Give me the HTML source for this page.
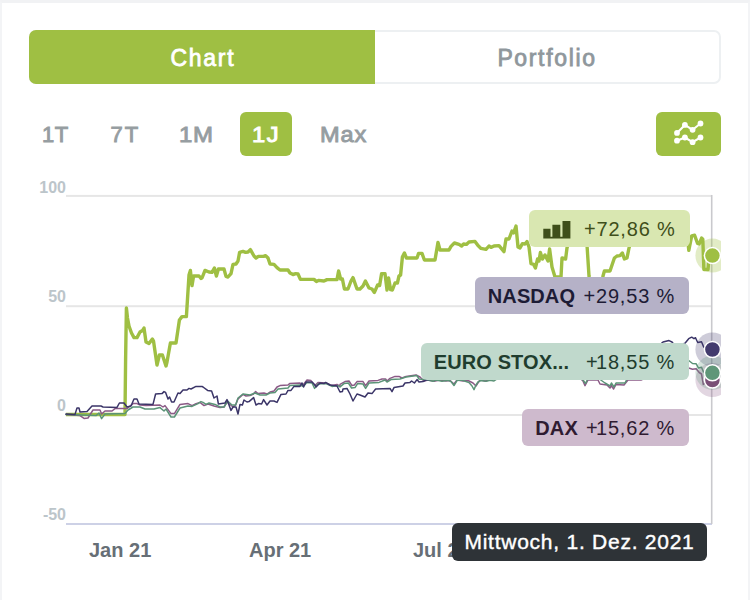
<!DOCTYPE html>
<html><head><meta charset="utf-8">
<style>
html,body{margin:0;padding:0;}
body{width:750px;height:600px;overflow:hidden;background:#fff;font-family:"Liberation Sans",sans-serif;position:relative;}
.frame{position:absolute;left:0;top:0;width:750px;height:620px;box-sizing:border-box;border-left:2px solid #f3f4f6;border-right:2px solid #f3f4f6;border-top:3px solid #f1f2f4;}
.tabs{position:absolute;left:29px;top:30px;width:692px;height:54px;box-sizing:border-box;border:2px solid #edf0f2;border-radius:7px;}
.tab-chart{position:absolute;left:29px;top:30px;width:346px;height:54px;background:#9fbf43;border-radius:7px 0 0 7px;color:#fff;font-size:23px;line-height:57px;text-align:center;letter-spacing:1.7px;-webkit-text-stroke:0.8px #fff;}
.tab-port{position:absolute;left:375px;top:30px;width:346px;height:54px;color:#8f979c;font-size:23px;line-height:57px;text-align:center;letter-spacing:1.65px;-webkit-text-stroke:0.8px #8f979c;}
.rng{position:absolute;top:111.5px;height:44px;line-height:46px;font-size:22px;color:#969da1;-webkit-text-stroke:0.9px #969da1;letter-spacing:0.6px;white-space:nowrap;}
.rng.act{left:240px;width:52px;background:#9fbf43;border-radius:6px;color:#fff;-webkit-text-stroke:0.9px #fff;text-align:center;}
.cmp{position:absolute;left:656px;top:111.5px;width:65px;height:44px;background:#9fbf43;border-radius:6px;}
.yl{position:absolute;width:60px;left:6px;text-align:right;font-size:16px;font-weight:bold;color:#bcc5ca;line-height:16px;}
.xl{position:absolute;top:538px;font-size:20px;font-weight:bold;color:#676f76;line-height:24px;white-space:nowrap;}
.lab{position:absolute;height:37px;border-radius:6px;box-sizing:border-box;font-size:20px;line-height:38px;white-space:nowrap;}
.lab b{position:absolute;left:13.3px;top:0;font-weight:bold;letter-spacing:0.1px;}
.lab span{position:absolute;right:14px;top:0;letter-spacing:0.8px;}
.lab i{font-style:normal;margin-right:-2.4px;}
.tip{position:absolute;left:452px;top:523px;width:255px;height:37.5px;background:#2e3337;border-radius:6px;color:#fff;font-size:21px;line-height:38px;text-align:center;letter-spacing:0.75px;-webkit-text-stroke:0.4px #fff;white-space:nowrap;}
svg{position:absolute;left:0;top:0;}
</style></head><body>
<div class="frame"></div>
<div class="tabs"></div>
<div class="tab-chart"><span style="position:relative;left:0.9px">Chart</span></div>
<div class="tab-port"><span style="position:relative;left:-1px">Portfolio</span></div>

<div class="rng" style="left:42px">1T</div>
<div class="rng" style="left:110.5px;letter-spacing:2px">7T</div>
<div class="rng" style="left:178.5px;transform:scaleX(1.09);transform-origin:left">1M</div>
<div class="rng act"><span style="display:inline-block;transform:scaleX(1.08);letter-spacing:1.4px;margin-left:1px">1J</span></div>
<div class="rng" style="left:320px;letter-spacing:0.8px;transform:scaleX(1.07);transform-origin:left">Max</div>
<div class="cmp"></div>

<div class="yl" style="top:180px">100</div>
<div class="yl" style="top:289px">50</div>
<div class="yl" style="top:398px">0</div>
<div class="yl" style="top:507px">-50</div>

<div class="xl" style="left:89px">Jan 21</div>
<div class="xl" style="left:249px">Apr 21</div>
<div class="xl" style="left:413px">Jul 21</div>

<svg width="750" height="600" viewBox="0 0 750 600">
  <defs><clipPath id="cp"><rect x="60" y="180" width="661" height="360"/></clipPath></defs>
  <!-- compare icon -->
  <g fill="#fff" stroke="#fff" stroke-width="2.1" stroke-linejoin="round" stroke-linecap="round">
    <polyline fill="none" points="677,132.9 684.9,124.9 692.6,129.8 700.5,123.5"/>
    <polyline fill="none" points="677,140.7 684.9,137.5 692.6,142.2 700.5,137.5"/>
    <g stroke="none">
    <circle cx="677" cy="132.9" r="2.9"/><circle cx="684.9" cy="124.9" r="2.9"/><circle cx="692.6" cy="129.8" r="2.9"/><circle cx="700.5" cy="123.5" r="2.9"/>
    <circle cx="677" cy="140.7" r="2.9"/><circle cx="684.9" cy="137.5" r="2.9"/><circle cx="692.6" cy="142.2" r="2.9"/><circle cx="700.5" cy="137.5" r="2.9"/>
    </g>
  </g>
  <!-- grid -->
  <rect x="66" y="194.9" width="646" height="2" fill="#e6e6e6"/>
  <rect x="66" y="305.2" width="646" height="2" fill="#e6e6e6"/>
  <rect x="66" y="414" width="646" height="2" fill="#e6e6e6"/>
  <rect x="66" y="523" width="646" height="2" fill="#cdd1e6"/>
  <rect x="710.9" y="195" width="1.6" height="329" fill="#c9c9cd"/>
  <g clip-path="url(#cp)" fill="none" stroke-linejoin="round" stroke-linecap="round">
    <polyline points="66.0,414.5 125.0,414.5 125.6,360.0 126.4,308.0 127.5,318.0 129.0,326.0 131.5,333.0 134.0,337.6 137.0,337.6 140.0,332.0 142.5,330.5 144.0,328.0 146.0,342.0 149.0,343.6 152.4,339.0 153.5,341.0 157.0,365.0 159.4,355.0 162.4,355.0 166.0,366.0 167.0,362.0 170.4,343.0 176.0,343.0 179.4,320.0 182.0,316.6 186.4,316.6 189.0,275.0 190.4,270.4 192.0,285.6 193.6,276.0 199.0,276.0 201.0,278.4 202.0,278.0 205.0,270.4 209.0,272.0 212.0,272.4 214.4,268.0 216.4,276.0 218.4,269.0 224.0,269.0 226.0,276.4 228.0,277.0 231.0,273.6 233.0,264.4 236.0,264.0 238.0,261.0 239.6,252.4 243.0,251.4 245.6,252.4 248.0,252.0 250.4,249.6 254.0,256.0 256.0,258.0 258.4,256.4 263.6,256.4 265.6,255.6 268.0,258.0 270.0,264.0 274.0,264.4 277.0,267.6 280.0,270.0 288.0,270.0 290.0,273.0 293.0,274.6 295.6,273.6 298.0,274.0 300.4,279.4 314.0,279.4 316.4,281.4 318.4,280.4 324.0,281.0 327.0,279.6 337.0,279.6 338.6,271.0 340.6,279.0 342.4,279.0 344.4,289.0 348.0,289.0 351.0,281.0 353.0,277.6 357.0,289.0 360.0,289.0 363.0,286.0 365.4,281.0 369.0,288.0 372.0,289.0 374.4,292.4 377.6,285.0 379.6,285.6 381.6,273.6 385.0,273.6 387.0,290.0 388.6,278.0 390.6,289.6 392.4,290.0 395.0,283.0 397.4,283.0 399.0,276.0 400.6,275.0 402.4,257.0 404.4,253.0 406.4,258.0 417.0,258.0 418.6,253.4 422.0,253.4 424.4,260.0 435.0,260.0 438.0,242.4 440.0,250.0 449.0,250.0 451.0,246.4 454.4,243.0 459.0,244.4 461.6,246.0 463.6,244.0 466.4,244.4 469.0,242.0 475.0,241.4 478.0,245.6 481.0,248.4 486.0,249.4 489.0,246.0 491.0,247.4 494.0,246.0 499.0,245.6 504.0,251.6 506.0,239.0 509.0,239.0 512.0,231.0 513.6,233.0 516.0,226.0 518.0,247.0 520.0,248.0 522.4,243.6 525.0,244.0 527.0,241.6 529.0,247.0 531.0,263.6 533.6,264.4 535.4,268.0 537.6,259.0 539.0,261.0 540.4,252.4 542.4,259.0 545.0,255.0 548.0,261.0 549.6,249.0 552.0,267.0 555.0,277.0 561.0,277.0 562.0,258.0 565.6,259.0 567.0,248.0 569.0,240.0 580.0,240.0 587.0,245.0 589.0,276.0 590.0,285.0 602.0,285.0 603.0,276.0 604.4,271.0 610.0,271.0 614.4,258.0 617.0,256.0 620.0,255.6 622.4,253.0 624.4,259.0 627.0,258.0 629.0,248.0 632.0,240.0 660.0,238.0 687.5,238.0 688.8,250.3 691.7,235.8 694.6,235.2 697.5,243.3 699.2,243.9 701.6,238.1 702.8,239.2 703.9,269.5 708.0,269.5 709.0,258.0 712.4,255.6" stroke="#9fbf43" stroke-width="3.4" stroke-linecap="butt"/>
    <polyline points="66.0,414.4 80.0,415.6 84.0,418.4 88.0,418.0 93.0,410.0 100.0,410.0 101.6,414.0 105.0,411.0 112.0,411.0 115.0,408.6 127.0,408.6 129.0,407.0 133.0,403.6 137.0,403.6 140.0,405.0 146.0,405.6 160.0,405.0 163.0,407.0 165.0,405.6 171.0,413.6 174.4,413.6 180.0,404.4 188.0,403.6 192.0,405.6 196.0,403.6 200.0,402.4 204.0,405.6 208.0,404.0 214.0,406.0 220.0,407.6 224.0,407.0 227.0,402.0 233.0,407.0 235.6,405.0 238.0,399.0 243.0,394.4 246.0,396.0 250.0,395.6 253.0,394.4 255.6,391.6 258.0,393.6 264.0,393.0 267.0,394.0 270.0,392.0 274.0,391.0 277.0,387.0 280.0,385.6 288.0,385.0 289.6,383.6 300.0,383.0 303.0,385.0 307.0,380.0 311.0,380.6 315.0,385.6 318.0,382.4 326.0,383.0 332.0,385.6 337.0,384.4 340.0,386.4 340.0,384.4 345.0,381.6 349.0,381.0 352.0,385.6 354.4,385.0 357.0,381.6 363.0,381.6 365.6,385.6 369.0,381.0 378.0,380.4 382.0,379.0 385.6,379.0 387.0,381.0 390.0,378.4 395.0,376.4 399.0,376.4 402.0,378.0 406.0,376.4 416.0,375.0 420.0,377.0 424.0,381.0 428.0,380.0 434.0,381.2 440.0,380.0 446.0,381.0 450.0,380.5 454.0,384.0 457.0,380.0 463.0,381.0 468.0,380.5 473.0,383.0 476.0,386.0 478.5,382.0 480.0,380.0 485.0,381.0 490.0,380.0 497.0,379.0 520.0,377.0 560.0,377.0 580.0,378.0 583.0,381.0 585.0,385.6 588.0,380.0 598.0,380.0 600.0,384.0 607.0,385.0 610.0,388.0 611.4,385.6 613.6,389.0 616.0,384.4 624.0,385.0 628.0,380.0 641.0,380.0 650.0,376.0 670.0,372.0 688.7,368.0 692.5,369.2 696.2,368.7 699.2,372.5 701.5,374.0 703.3,384.5 706.0,382.0 712.4,380.0" stroke="#8b5a86" stroke-width="1.5"/>
    <polyline points="66.0,414.4 96.0,415.6 99.0,413.0 101.6,418.6 105.0,414.0 125.0,413.6 128.0,410.0 133.0,407.0 140.0,407.0 145.0,409.0 154.0,409.0 160.0,407.6 164.0,411.0 166.0,409.0 171.0,417.0 174.4,417.0 180.0,408.0 188.0,406.0 192.0,406.4 198.0,403.6 201.0,401.6 203.0,402.4 206.0,404.4 209.0,403.0 215.0,404.4 220.0,407.0 224.0,407.0 227.6,401.0 232.0,405.0 235.6,405.0 238.0,398.0 243.0,394.0 250.0,395.0 255.0,393.0 260.0,395.0 266.0,395.0 270.0,393.0 275.0,392.4 278.0,389.0 288.0,388.0 290.0,385.6 300.0,385.0 303.0,386.4 307.0,382.4 312.0,383.0 314.6,388.4 318.0,384.0 326.0,383.6 332.0,386.4 338.0,385.6 340.0,387.0 344.0,383.6 348.4,383.0 351.6,388.0 355.0,387.6 357.6,383.6 363.0,384.0 365.6,388.4 369.0,383.0 379.0,382.4 385.0,380.0 387.0,382.0 391.0,379.6 400.0,379.0 406.0,377.0 417.0,375.6 419.0,379.0 424.0,379.6 430.0,380.5 433.0,381.3 436.0,380.0 442.0,381.2 448.0,380.3 451.0,381.5 454.0,385.5 457.0,380.5 462.0,380.0 466.0,381.5 469.0,382.5 472.0,386.0 474.0,389.6 476.0,385.0 478.0,382.0 481.0,380.5 486.0,381.2 490.0,380.3 494.0,381.0 497.0,379.0 520.0,376.0 560.0,376.0 582.0,378.5 585.5,383.5 588.0,378.5 598.0,378.0 605.0,383.0 610.0,386.0 611.4,383.0 614.0,387.0 616.0,383.0 625.0,383.0 627.0,379.0 650.0,372.0 670.0,366.0 688.7,360.5 692.5,363.5 696.2,363.8 698.5,368.0 701.5,367.2 703.7,372.5 712.4,372.8" stroke="#5b9377" stroke-width="1.5"/>
    <polyline points="66.0,414.0 75.0,414.4 77.0,408.0 79.0,408.0 80.0,412.0 87.0,411.6 92.0,406.0 101.0,406.0 103.0,407.0 117.0,407.4 119.4,403.0 124.0,403.0 127.0,407.0 131.0,406.0 134.0,399.0 137.0,399.0 139.0,404.0 153.0,404.4 155.6,394.0 162.0,393.6 164.0,391.6 165.6,392.4 168.0,399.0 169.6,397.0 171.6,402.0 174.0,402.0 178.0,393.0 180.0,393.6 183.0,390.0 187.0,390.0 189.0,388.4 191.0,389.0 196.0,386.4 202.0,386.4 203.0,387.0 207.6,390.4 211.6,391.0 214.0,398.0 217.0,396.0 218.4,404.0 225.0,403.0 227.0,399.6 231.0,410.4 233.0,407.0 236.0,407.0 238.0,414.0 240.0,404.4 242.4,405.0 244.0,400.0 247.0,402.0 249.0,401.6 253.6,397.6 256.0,405.0 258.4,403.6 261.6,404.0 263.6,399.6 267.0,405.0 270.0,401.0 274.0,401.0 277.0,402.4 281.0,394.4 286.0,394.0 288.0,390.4 291.0,390.4 294.0,386.4 300.0,386.4 302.0,383.0 303.6,387.0 306.0,382.0 312.0,382.0 315.0,385.0 316.0,387.0 320.0,383.0 324.0,383.6 325.6,382.4 330.0,385.0 337.0,386.0 340.0,392.0 342.4,391.6 343.0,389.0 347.0,388.4 350.0,394.0 353.0,401.0 357.0,394.0 360.0,395.0 365.0,397.0 368.0,393.0 372.0,393.6 375.6,389.0 390.0,388.4 392.0,391.6 394.0,387.6 403.0,386.0 405.0,383.0 410.0,382.4 411.6,381.0 414.4,383.0 417.0,379.6 419.0,382.0 423.0,381.6 426.0,380.0 440.0,378.0 450.0,379.0 460.0,374.0 470.0,376.0 480.0,372.0 490.0,374.0 500.0,370.0 510.0,371.0 520.0,367.0 530.0,369.0 540.0,366.0 550.0,367.0 560.0,363.0 570.0,364.0 580.0,360.0 590.0,362.0 600.0,357.0 610.0,359.0 620.0,354.0 630.0,356.0 640.0,350.0 650.0,351.0 657.0,347.0 663.0,342.0 669.0,340.6 672.0,342.0 675.0,346.0 680.0,345.0 685.0,343.2 688.7,338.7 691.7,337.2 694.0,338.7 695.5,337.7 697.7,342.5 701.5,341.7 703.7,347.0 712.4,349.5" stroke="#3b3568" stroke-width="1.5"/>
    <!-- markers -->
    <circle cx="712.4" cy="380" r="17" fill="#8b5a86" fill-opacity="0.25" stroke="none"/>
    <circle cx="712.4" cy="349.5" r="17" fill="#3b3568" fill-opacity="0.25" stroke="none"/>
    <circle cx="712.4" cy="372.8" r="17" fill="#5b9377" fill-opacity="0.25" stroke="none"/>
    <circle cx="712.4" cy="255.6" r="17" fill="#9fbf43" fill-opacity="0.3" stroke="none"/>
    <circle cx="712.4" cy="380" r="8" fill="#7a4f76" stroke="#fff" stroke-width="1.5"/>
    <circle cx="712.4" cy="349.5" r="8" fill="#433b6e" stroke="#fff" stroke-width="1.5"/>
    <circle cx="712.4" cy="372.8" r="8" fill="#5f9678" stroke="#fff" stroke-width="1.5"/>
    <circle cx="712.4" cy="255.6" r="8" fill="#9fbf43" stroke="#fff" stroke-width="1.5"/>
  </g>
</svg>

<div class="lab" style="left:529px;top:210px;width:160.5px;background:#d9e7b1;color:#3f4f1a;">
  <svg width="30" height="20" viewBox="0 0 30 20" style="left:14px;top:10px"><path d="M0.3 8.8h7.2v9.6h-7.2zM9.4 4.7h7.9v13.7h-7.9zM19.5 1.1h7.9v17.3h-7.9zM0.3 16.8h27.1v1.6h-27.1z" fill="#3f4f1a"/></svg>
  <span>+72,86 %</span></div>
<div class="lab" style="left:474.5px;top:277px;width:214.5px;background:#b5b1c7;color:#1d1b35;"><b>NASDAQ</b><span>+29,53 %</span></div>
<div class="lab" style="left:420.5px;top:343px;width:268.5px;background:#c0d9cc;color:#1f3d2e;"><b>EURO STOX...</b><span><i>+</i>18,55 %</span></div>
<div class="lab" style="left:522px;top:409px;width:167px;background:#cebacd;color:#2f1b31;"><b>DAX</b><span><i>+</i>15,62 %</span></div>
<div class="tip">Mittwoch, 1. Dez. 2021</div>
</body></html>
